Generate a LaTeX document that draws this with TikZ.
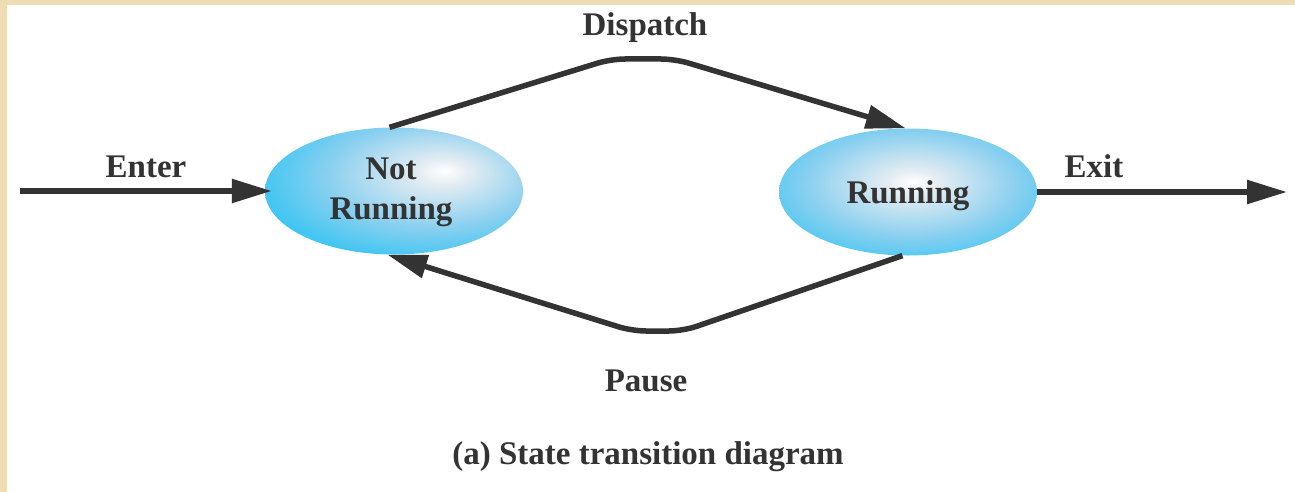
\documentclass[tikz,border=0pt]{standalone}
\usepackage{fontspec}
\setmainfont{Liberation Serif}
\usetikzlibrary{shapes.geometric,arrows.meta}
\definecolor{ink}{RGB}{51,51,51}
\definecolor{tan}{RGB}{238,220,178}
\definecolor{cyE}{RGB}{52,196,242}
\definecolor{cyM}{RGB}{140,208,240}
\definecolor{cyC}{RGB}{228,236,242}
\pgfdeclareradialshading{nrshade}{\pgfpoint{10bp}{8bp}}{color(0bp)=(white); color(5bp)=(cyC); color(20bp)=(cyM); color(34bp)=(cyE); color(80bp)=(cyE)}
\pgfdeclareradialshading{runshade}{\pgfpoint{1bp}{4bp}}{color(0bp)=(white); color(5bp)=(cyC); color(20bp)=(cyM); color(34bp)=(cyE); color(80bp)=(cyE)}
\tikzset{
  state/.style={ellipse, minimum width=258pt, minimum height=127pt, inner sep=0pt},
  lbl/.style={anchor=base, text=ink, font=\fontsize{33}{40}\selectfont\bfseries, inner sep=0pt},
  conn/.style={draw=ink, line width=5.5pt, -{Triangle[length=40pt,width=23pt]}},
}
\begin{document}
\begin{tikzpicture}[x=1pt,y=-1pt]
\useasboundingbox (0,0) rectangle (1295,492);
\fill[tan] (0,0) rectangle (1295,492);
\fill[white] (7,5) rectangle (1295,492);
\node[state, shading=nrshade] (nr) at (394,191) {};
\node[state, shading=runshade] (run) at (908,192) {};
\node[lbl] (nrt1) at (391,179) {Not};
\node[lbl] (nrt2) at (391,219) {Running};
\node[lbl] (runt) at (908,203) {Running};
\coordinate (in) at (20,191);
\coordinate (out) at (1287,192);
\draw[conn, shorten >=-7pt] (in) -- (nr.west);
\draw[conn] (run.east) -- (out);
\coordinate (d1) at (611,59);
\coordinate (d2) at (675,59);
\coordinate (p1) at (683,331);
\coordinate (p2) at (632,331);
\draw[conn, rounded corners=14pt] (nr.94) -- (d1) -- (d2) -- (run.92);
\draw[conn, rounded corners=14pt] (run.-95) -- (p1) -- (p2) -- (nr.-96);
\node[lbl] (enter) at (146,177) {Enter};
\node[lbl] (exit) at (1094,177) {Exit};
\node[lbl] (disp) at (645,36) {Dispatch};
\node[lbl] (pause) at (646,391) {Pause};
\node[lbl] (cap) at (648,464) {(a) State transition diagram};
\end{tikzpicture}
\end{document}
